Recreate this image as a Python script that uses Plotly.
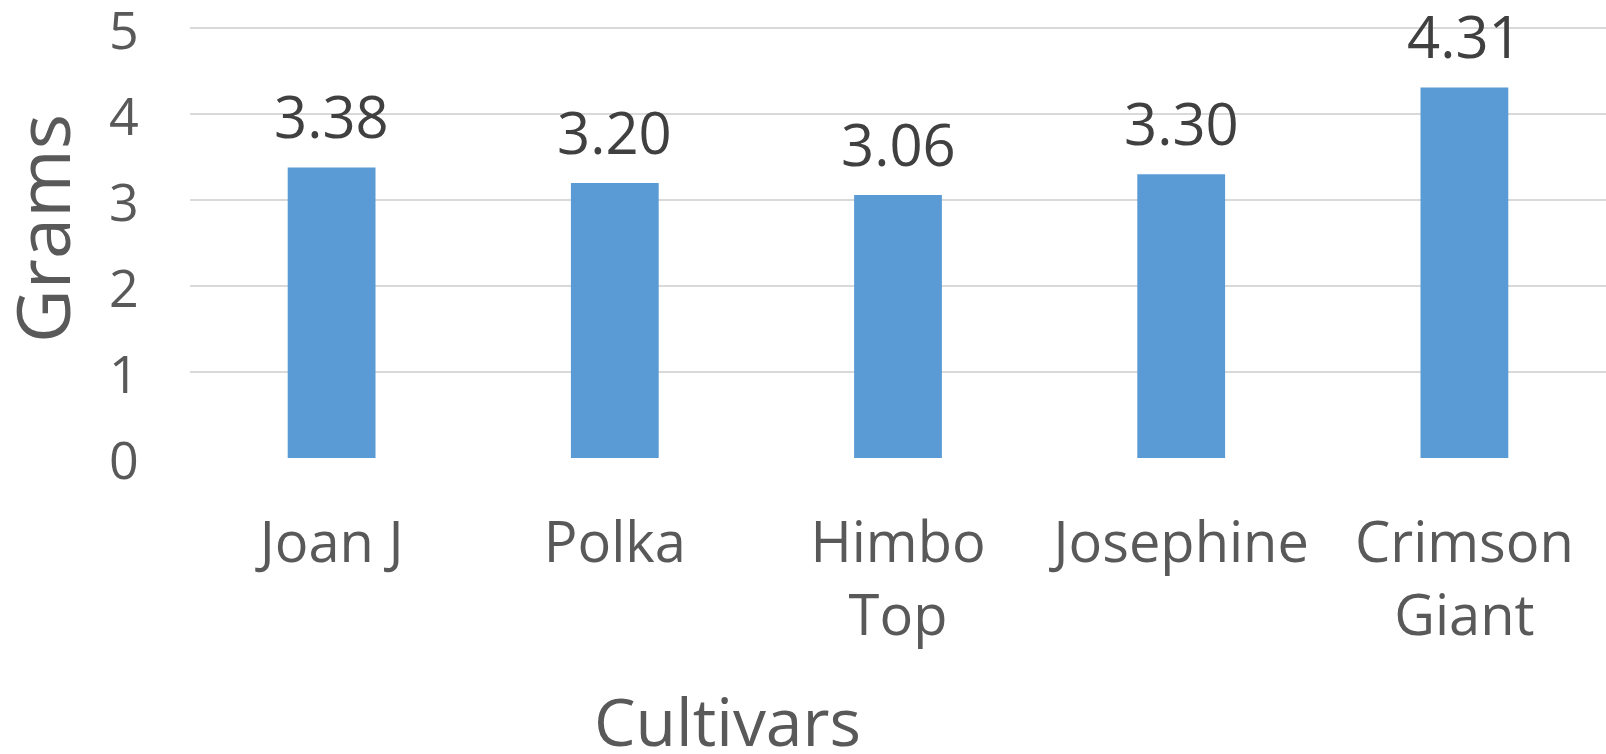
import plotly.graph_objects as go

# Average fruit weight per cultivar
cultivars = ["Joan J", "Polka", "Himbo<br>Top", "Josephine", "Crimson<br>Giant"]
grams = [3.38, 3.20, 3.06, 3.30, 4.31]
y_ticks = [0, 1, 2, 3, 4, 5]

FONT = "Open Sans"
BAR_COLOR = "#5B9BD5"
AXIS_TEXT = "#595959"
LABEL_TEXT = "#404040"

W, H = 1606, 754
L, R, T, B = 190, 0, 26, 296


def px_to_paper(px_x, px_y):
    """Figure pixel position -> paper coordinates of the plot area."""
    return (px_x - L) / (W - L - R), (H - B - px_y) / (H - T - B)


fig = go.Figure(
    go.Bar(
        x=cultivars,
        y=grams,
        width=0.31,
        marker=dict(color=BAR_COLOR, line=dict(width=0)),
        hoverinfo="skip",
    )
)

# Value labels above each bar, built from the same values as the bars
for name, val in zip(cultivars, grams):
    fig.add_annotation(
        x=name, y=val, xref="x", yref="y",
        text=f"{val:.2f}", showarrow=False,
        xanchor="center", yanchor="bottom", yshift=10,
        font=dict(family=FONT, size=58, color=LABEL_TEXT),
    )

# Y tick labels placed on the y scale (kept visible right up to the top edge)
tick_x, _ = px_to_paper(141, 0)
for v in y_ticks:
    fig.add_annotation(
        x=tick_x, y=v, xref="paper", yref="y",
        text=str(v), showarrow=False,
        xanchor="right", yanchor="middle",
        font=dict(family=FONT, size=52, color=AXIS_TEXT),
    )

# Axis titles
cx, cy = px_to_paper(727, 720)
fig.add_annotation(
    x=cx, y=cy, xref="paper", yref="paper", text="Cultivars", showarrow=False,
    xanchor="center", yanchor="middle",
    font=dict(family=FONT, size=66, color=AXIS_TEXT),
)
gx, gy = px_to_paper(41, 229)
fig.add_annotation(
    x=gx, y=gy, xref="paper", yref="paper", text="Grams", showarrow=False,
    textangle=-90, xanchor="center", yanchor="middle",
    font=dict(family=FONT, size=74, color=AXIS_TEXT),
)

fig.update_layout(
    width=W, height=H,
    margin=dict(l=L, r=R, t=T, b=B, pad=0),
    paper_bgcolor="white", plot_bgcolor="white",
    showlegend=False,
    font=dict(family=FONT, color=AXIS_TEXT),
)
fig.update_xaxes(
    showline=False, showgrid=False, zeroline=False, ticks="",
    tickfont=dict(family=FONT, size=56, color=AXIS_TEXT),
    ticklabelstandoff=47,
)
# small headroom above 5 so the top gridline is kept
fig.update_yaxes(
    range=[0, 5.025], tickvals=y_ticks,
    showgrid=True, gridcolor="#D9D9D9", gridwidth=2,
    zeroline=False, showline=False, ticks="", showticklabels=False,
)

fig.write_html("out.html")
